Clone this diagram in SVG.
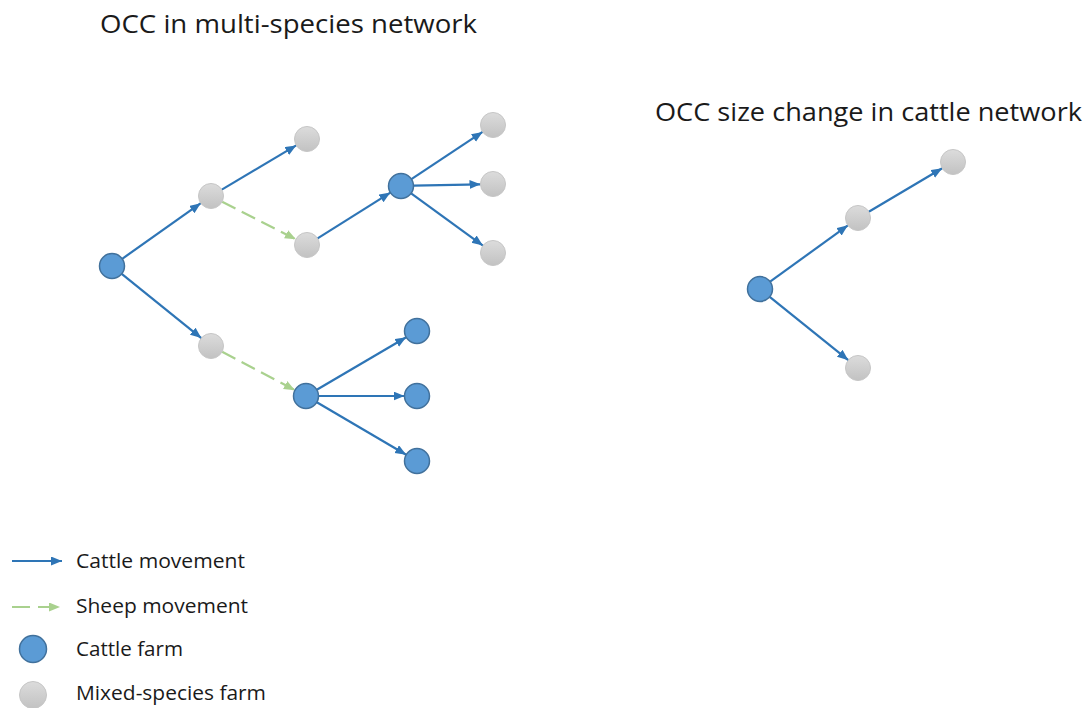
<svg xmlns="http://www.w3.org/2000/svg" width="1090" height="708" viewBox="0 0 1090 708">
  <style>
    text { font-family: "Open Sans", "Liberation Sans", sans-serif; fill: #1a1a1a; }
    .title { font-size: 25px; }
    .legend { font-size: 19.5px; }
    .cattle-farm { fill: #5b9bd5; stroke: #41719c; stroke-width: 1.5; }
    .mixed-farm { fill: url(#grayFill); stroke: #c6c6c6; stroke-width: 1; }
    .cattle { stroke: #2e75b6; stroke-width: 2.2; fill: none; marker-end: url(#arrowBlue); }
    .sheep { stroke: #a9d18e; stroke-width: 2.2; fill: none; stroke-dasharray: 15 7; marker-end: url(#arrowGreen); }
  </style>
  <defs>
    <linearGradient id="grayFill" x1="0" y1="0" x2="0" y2="1">
      <stop offset="0" stop-color="#dcdcdc"/>
      <stop offset="1" stop-color="#c2c2c2"/>
    </linearGradient>
    <marker id="arrowBlue" markerUnits="userSpaceOnUse" markerWidth="12" markerHeight="10" refX="11" refY="4.5" orient="auto">
      <path d="M0,0 L11,4.5 L0,9 z" fill="#2e75b6"/>
    </marker>
    <marker id="arrowGreen" markerUnits="userSpaceOnUse" markerWidth="12" markerHeight="10" refX="11" refY="4.5" orient="auto">
      <path d="M0,0 L11,4.5 L0,9 z" fill="#a9d18e"/>
    </marker>
  </defs>

  <rect width="1090" height="708" fill="#ffffff"/>

  <!-- titles -->
  <text class="title" x="100" y="33" textLength="377" lengthAdjust="spacingAndGlyphs">OCC in multi-species network</text>
  <text class="title" x="655" y="121" textLength="427" lengthAdjust="spacingAndGlyphs">OCC size change in cattle network</text>

  <!-- connectors -->
  <g id="connectors">
    <!-- multi-species network -->
    <line class="cattle" x1="122.2" y1="258.8" x2="200.8" y2="203.2"/>
    <line class="cattle" x1="221.8" y1="189.6" x2="296.2" y2="145.4"/>
    <line class="sheep" x1="222.1" y1="201.7" x2="295.9" y2="239.3"/>
    <line class="cattle" x1="317.6" y1="238.4" x2="390.4" y2="192.6"/>
    <line class="cattle" x1="411.4" y1="179.1" x2="482.6" y2="131.9"/>
    <line class="cattle" x1="413.5" y1="185.7" x2="480.5" y2="184.3"/>
    <line class="cattle" x1="411.1" y1="193.4" x2="482.9" y2="245.6"/>
    <line class="cattle" x1="121.7" y1="273.9" x2="201.3" y2="338.1"/>
    <line class="sheep" x1="222.1" y1="351.8" x2="294.9" y2="390.2"/>
    <line class="cattle" x1="316.8" y1="389.7" x2="406.2" y2="337.3"/>
    <line class="cattle" x1="318.5" y1="396" x2="404.5" y2="396"/>
    <line class="cattle" x1="316.8" y1="402.3" x2="406.2" y2="454.7"/>
    <!-- cattle network -->
    <line class="cattle" x1="770.1" y1="281.7" x2="847.9" y2="225.3"/>
    <line class="cattle" x1="868.8" y1="211.7" x2="942.2" y2="168.3"/>
    <line class="cattle" x1="769.7" y1="296.8" x2="848.3" y2="360.2"/>
  </g>

  <!-- multi-species network nodes -->
  <g id="m-root"><circle class="cattle-farm" cx="112" cy="266" r="12.5"/></g>
  <g id="m-a"><circle class="mixed-farm" cx="211" cy="196" r="12.5"/></g>
  <g id="m-a-top"><circle class="mixed-farm" cx="307" cy="139" r="12.5"/></g>
  <g id="m-a-mid"><circle class="mixed-farm" cx="307" cy="245" r="12.5"/></g>
  <g id="m-hub1"><circle class="cattle-farm" cx="401" cy="186" r="12.5"/></g>
  <g id="m-hub1-1"><circle class="mixed-farm" cx="493" cy="125" r="12.5"/></g>
  <g id="m-hub1-2"><circle class="mixed-farm" cx="493" cy="184" r="12.5"/></g>
  <g id="m-hub1-3"><circle class="mixed-farm" cx="493" cy="253" r="12.5"/></g>
  <g id="m-b"><circle class="mixed-farm" cx="211" cy="346" r="12.5"/></g>
  <g id="m-hub2"><circle class="cattle-farm" cx="306" cy="396" r="12.5"/></g>
  <g id="m-hub2-1"><circle class="cattle-farm" cx="417" cy="331" r="12.5"/></g>
  <g id="m-hub2-2"><circle class="cattle-farm" cx="417" cy="396" r="12.5"/></g>
  <g id="m-hub2-3"><circle class="cattle-farm" cx="417" cy="461" r="12.5"/></g>

  <!-- cattle network nodes -->
  <g id="c-root"><circle class="cattle-farm" cx="760" cy="289" r="12.5"/></g>
  <g id="c-mid"><circle class="mixed-farm" cx="858" cy="218" r="12.5"/></g>
  <g id="c-top"><circle class="mixed-farm" cx="953" cy="162" r="12.5"/></g>
  <g id="c-low"><circle class="mixed-farm" cx="858" cy="368" r="12.5"/></g>

  <!-- legend -->
  <g id="legend">
    <line class="cattle" x1="12" y1="561" x2="62" y2="561"/>
    <text class="legend" x="76" y="568" textLength="169" lengthAdjust="spacingAndGlyphs">Cattle movement</text>
    <line class="sheep" x1="12" y1="607" x2="60" y2="607" style="stroke-dasharray: 18 8"/>
    <text class="legend" x="76" y="613" textLength="172" lengthAdjust="spacingAndGlyphs">Sheep movement</text>
    <circle class="cattle-farm" cx="33" cy="649" r="13.5"/>
    <text class="legend" x="76" y="656" textLength="107" lengthAdjust="spacingAndGlyphs">Cattle farm</text>
    <circle class="mixed-farm" cx="33" cy="695" r="13.5"/>
    <text class="legend" x="76" y="700" textLength="190" lengthAdjust="spacingAndGlyphs">Mixed-species farm</text>
  </g>
</svg>
